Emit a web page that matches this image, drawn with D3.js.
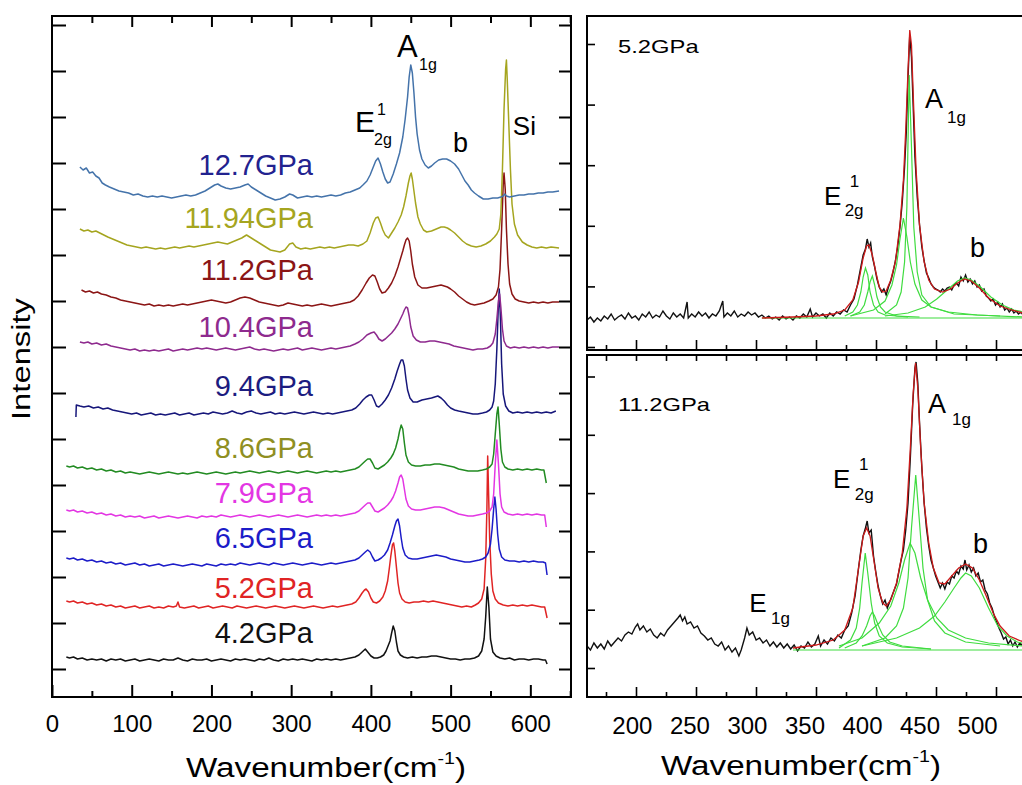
<!DOCTYPE html>
<html>
<head>
<meta charset="utf-8">
<script src="https://d3js.org/d3.v7.min.js"></script>
<style>
  body { margin: 0; background: #fff; }
  svg { display: block; font-family: "Liberation Sans", Arial, sans-serif; }
</style>
</head>
<body>
<div id="chart"></div>
<script>
// ---------- data: stacked Raman spectra (wavenumber, intensity a.u.) ----------
const s42 = [[18,12],[22,11],[27,12],[32,10],[38,11],[44,9],[50,10],[56,9],[62,10],[68,8],[74,10],[80,9],[86,10],[92,8],[98,9],[104,10],[110,8],[116,9],[122,10],[128,9],[134,8],[140,10],[146,9],[152,9],[158,11],[164,9],[170,8],[176,10],[182,9],[188,9],[194,10],[200,8],[206,9],[212,10],[218,9],[224,8],[230,10],[236,9],[242,10],[248,9],[254,8],[260,10],[266,9],[272,11],[278,9],[284,8],[290,10],[296,9],[302,10],[308,9],[314,10],[320,9],[326,8],[332,10],[338,9],[344,10],[350,9],[356,10],[362,9],[368,10],[374,11],[380,12],[385,14],[389,17],[393,20],[396,17],[400,13],[404,11],[408,11],[412,12],[416,14],[419,18],[422,24],[424,28],[426,36],[428,43],[430,38],[432,27],[434,18],[437,14],[441,12],[446,11],[452,12],[458,11],[464,12],[470,12],[476,13],[482,13],[488,12],[494,11],[500,10],[506,10],[512,9],[518,10],[524,10],[530,11],[535,13],[539,18],[542,30],[544,52],[546,82],[548,62],[550,30],[553,17],[557,13],[562,11],[568,10],[574,11],[580,9],[586,10],[592,10],[598,9],[604,10],[610,10],[616,9],[619,9],[621,5]];
const s52 = [[18,68],[22,67],[27,68],[32,66],[38,67],[44,65],[50,66],[56,64],[62,65],[68,63],[74,64],[80,62],[86,63],[92,61],[98,62],[104,63],[110,61],[116,62],[122,63],[128,61],[134,62],[140,61],[146,63],[152,62],[156,63],[158,67],[160,62],[166,61],[172,62],[178,63],[184,61],[190,62],[196,63],[202,61],[208,62],[214,63],[220,62],[226,61],[232,63],[238,62],[244,61],[250,62],[256,63],[262,62],[268,61],[274,62],[280,63],[286,62],[292,61],[298,62],[304,63],[310,62],[316,61],[322,62],[328,63],[334,62],[340,61],[346,62],[352,63],[358,62],[364,63],[370,64],[376,65],[381,67],[385,71],[389,76],[392,79],[394,80],[397,77],[400,71],[403,67],[407,66],[411,68],[415,72],[418,78],[421,88],[423,100],[425,113],[427,124],[428.5,126],[430,118],[432,102],[434,86],[436,76],[439,70],[443,67],[448,66],[454,67],[460,67],[466,68],[472,67],[478,68],[484,67],[490,66],[496,65],[502,64],[508,63],[514,62],[520,63],[526,62],[531,64],[535,66],[539,70],[542,80],[544,110],[545.5,160],[546.5,213],[547.5,180],[549,130],[551,95],[553,78],[556,70],[560,66],[566,64],[572,63],[578,64],[584,63],[590,64],[596,63],[602,64],[608,63],[614,62],[618,62],[621,51]];
const s65 = [[18,111],[22,110],[27,111],[32,109],[38,110],[44,108],[50,109],[56,107],[62,108],[68,106],[74,107],[80,105],[86,106],[92,104],[98,105],[104,106],[110,104],[116,105],[122,103],[128,104],[134,105],[140,103],[146,104],[152,105],[158,104],[164,103],[170,104],[176,105],[182,104],[188,103],[194,105],[200,104],[206,103],[212,105],[218,104],[224,105],[230,104],[236,106],[242,105],[248,104],[254,105],[260,106],[266,105],[272,104],[278,106],[284,105],[290,104],[296,105],[302,106],[308,105],[314,104],[320,105],[326,106],[332,105],[338,104],[344,105],[350,106],[356,105],[362,106],[368,107],[374,108],[380,109],[385,111],[389,114],[393,117],[396,119],[399,117],[402,112],[405,108],[409,109],[413,111],[417,114],[421,119],[424,126],[427,134],[430,143],[432,148],[434,150],[436,143],[438,131],[440,121],[443,114],[447,111],[452,110],[458,110],[464,111],[470,112],[476,113],[482,114],[488,113],[494,112],[500,110],[506,109],[512,108],[518,107],[524,107],[530,108],[536,109],[540,110],[544,112],[547,116],[550,125],[552,140],[554,160],[555.5,172],[557,160],[559,135],[561,120],[564,112],[568,109],[574,108],[580,108],[586,107],[592,108],[598,107],[604,108],[610,107],[616,107],[619,106],[621,94]];
const s79 = [[18,159],[22,158],[27,159],[32,157],[38,158],[44,156],[50,157],[56,155],[62,156],[68,154],[74,155],[80,153],[86,154],[92,152],[98,153],[104,152],[110,153],[116,151],[122,152],[128,153],[134,151],[140,152],[146,153],[152,152],[158,151],[164,152],[170,153],[176,152],[182,151],[188,153],[194,152],[200,153],[206,152],[212,154],[218,153],[224,152],[230,153],[236,154],[242,153],[248,152],[254,153],[260,154],[266,153],[272,152],[278,153],[284,154],[290,153],[296,152],[302,153],[308,154],[314,153],[320,152],[326,153],[332,154],[338,153],[344,154],[350,153],[356,154],[362,153],[368,154],[374,155],[380,156],[385,158],[389,161],[393,164],[396,166],[399,166],[402,162],[405,158],[409,157],[413,159],[417,161],[421,164],[425,168],[428,172],[431,178],[434,186],[436,192],[438,194],[440,190],[442,180],[444,170],[447,163],[451,160],[456,159],[462,159],[468,160],[474,161],[480,162],[486,162],[492,161],[498,159],[504,157],[510,155],[516,154],[522,153],[528,153],[534,154],[540,155],[545,156],[549,158],[552,162],[554,175],[556,205],[558,229],[560,205],[562,175],[564,162],[567,157],[572,155],[578,154],[584,155],[590,154],[596,155],[602,154],[608,155],[614,154],[618,154],[620,142]];
const s86 = [[18,203],[22,202],[27,203],[32,201],[38,202],[44,200],[50,201],[56,199],[62,200],[68,198],[74,199],[80,197],[86,198],[92,196],[98,197],[104,196],[110,195],[116,196],[122,197],[128,196],[134,195],[140,196],[146,197],[152,196],[158,195],[164,196],[170,195],[176,196],[182,197],[188,196],[194,195],[200,196],[206,197],[212,196],[218,195],[224,196],[230,197],[236,196],[242,197],[248,198],[254,197],[260,196],[266,197],[272,198],[278,197],[284,196],[290,197],[296,198],[302,197],[308,196],[314,197],[320,198],[326,197],[332,196],[338,197],[344,198],[350,197],[356,198],[362,197],[368,198],[374,199],[380,200],[385,202],[389,205],[393,208],[396,210],[399,210],[402,206],[405,201],[409,200],[413,202],[417,204],[421,207],[425,211],[428,215],[431,221],[434,230],[436,238],[438,244],[440,240],[442,226],[444,214],[447,207],[451,204],[456,203],[462,203],[468,204],[474,204],[480,205],[486,205],[492,204],[498,203],[504,202],[510,200],[516,199],[522,198],[528,198],[534,198],[540,199],[545,200],[549,202],[552,205],[554,215],[556,235],[558,255],[559.5,262],[561,245],[563,220],[565,207],[568,202],[572,200],[578,199],[584,200],[590,199],[596,200],[602,199],[608,200],[614,199],[617,199],[620,186]];
const s94 = [[30,252],[30.5,264],[35,263],[40,262],[46,263],[52,261],[58,262],[64,260],[70,261],[76,259],[82,258],[88,257],[94,256],[100,255],[106,256],[112,254],[118,255],[124,256],[130,254],[136,255],[142,254],[148,255],[154,256],[160,254],[166,255],[172,256],[178,254],[184,255],[190,256],[196,255],[202,257],[208,256],[214,255],[220,256],[226,258],[232,256],[238,255],[244,257],[250,258],[256,256],[262,255],[268,256],[274,257],[280,255],[286,256],[292,255],[298,256],[304,257],[310,256],[316,255],[322,256],[328,257],[334,256],[340,255],[346,256],[352,255],[358,256],[364,257],[370,258],[376,259],[381,261],[386,265],[390,269],[394,272],[398,274],[401,274],[404,269],[407,263],[410,262],[414,265],[418,269],[422,274],[426,281],[430,290],[433,298],[436,305],[438,309],[440,309],[442,303],[444,290],[446,279],[449,271],[453,267],[458,267],[464,269],[470,270],[476,271],[480,272],[484,273],[488,271],[492,268],[496,264],[500,261],[505,259],[510,258],[516,257],[522,256],[528,255],[534,255],[540,256],[545,257],[549,259],[552,262],[554,268],[556,285],[558,320],[559.5,355],[561,380],[562.5,350],[564,305],[566,275],[569,263],[573,258],[578,256],[584,257],[590,256],[596,257],[602,256],[608,257],[614,256],[620,257],[626,256],[632,258]];
const s104 = [[35,327],[40,326],[45,327],[50,325],[56,326],[62,324],[68,325],[74,323],[80,322],[86,321],[92,320],[98,319],[104,320],[110,318],[116,319],[122,318],[128,319],[134,318],[140,319],[146,320],[152,318],[158,319],[164,320],[170,319],[176,320],[182,321],[188,320],[194,321],[200,320],[206,319],[212,320],[218,321],[224,320],[230,319],[236,320],[242,321],[248,322],[254,320],[260,319],[266,320],[272,319],[278,318],[284,319],[290,320],[296,319],[302,320],[308,321],[314,319],[320,320],[326,321],[332,320],[338,319],[344,320],[350,321],[356,320],[362,321],[368,322],[374,323],[380,325],[385,327],[390,330],[395,334],[400,336],[404,337],[407,334],[410,330],[414,328],[418,330],[422,333],[426,336],[430,340],[434,345],[437,350],[440,355],[442,359],[444,362],[446,361],[448,353],[450,342],[453,333],[457,329],[462,327],[468,327],[474,328],[480,328],[486,327],[492,326],[498,325],[504,323],[510,322],[516,321],[522,320],[528,319],[534,320],[540,320],[546,321],[550,323],[553,326],[556,335],[558,350],[560,368],[561.5,375],[563,362],[565,340],[567,328],[570,323],[575,321],[580,322],[586,321],[592,322],[598,321],[604,322],[610,321],[616,322],[622,321],[628,322],[636,322]];
const s112 = [[37,379],[42,377],[47,378],[52,376],[57,377],[62,375],[68,374],[74,372],[80,371],[86,369],[92,368],[98,367],[104,366],[110,365],[116,364],[122,365],[128,363],[134,364],[140,363],[146,364],[152,363],[158,364],[164,365],[170,364],[176,365],[182,366],[188,367],[194,368],[200,369],[206,368],[212,367],[218,366],[224,367],[230,369],[236,371],[242,372],[248,371],[254,369],[260,367],[266,366],[272,365],[278,364],[284,363],[290,364],[296,366],[302,365],[308,364],[314,363],[320,364],[326,363],[332,364],[338,365],[344,364],[350,363],[356,364],[362,365],[368,366],[374,367],[379,369],[384,373],[389,379],[394,386],[398,391],[402,394],[405,393],[408,387],[411,380],[414,376],[418,377],[422,381],[426,386],[430,393],[434,402],[437,410],[440,418],[442,424],[444,429],[446,431],[448,428],[450,418],[452,405],[455,392],[459,384],[464,381],[470,381],[476,382],[482,383],[488,384],[492,383],[496,382],[500,380],[505,377],[510,373],[515,370],[520,367],[525,365],[530,364],[536,365],[542,366],[548,368],[553,370],[557,374],[560,382],[562,400],[564,440],[566,485],[567,496],[568.5,480],[570,440],[572,405],[574,385],[577,375],[581,370],[586,368],[592,367],[598,366],[604,367],[610,366],[616,367],[622,366],[628,367],[636,367]];
const s1194 = [[35,440],[40,438],[45,439],[50,437],[55,438],[60,436],[65,434],[70,432],[76,430],[82,428],[88,426],[94,424],[100,423],[106,422],[112,421],[118,422],[124,421],[130,420],[136,421],[142,420],[148,421],[154,422],[160,421],[166,422],[172,423],[178,422],[184,423],[190,424],[196,425],[202,426],[208,427],[214,426],[220,425],[226,427],[232,429],[238,431],[244,434],[250,431],[256,428],[262,425],[268,422],[274,419],[280,418],[286,417],[292,419],[298,425],[302,426],[306,422],[312,420],[318,421],[324,420],[330,421],[336,422],[342,421],[348,422],[354,421],[360,422],[366,423],[372,424],[378,424],[384,423],[390,425],[395,428],[399,436],[403,446],[406,451],[409,452],[412,446],[415,439],[418,434],[422,431],[426,436],[430,441],[434,447],[438,454],[441,462],[444,473],[447,486],[449,493],[450.5,496],[452,490],[454,478],[456,466],[459,452],[462,445],[466,439],[470,437],[476,438],[482,440],[488,442],[492,442],[496,441],[500,439],[505,436],[510,432],[515,428],[520,425],[526,423],[532,422],[538,423],[544,425],[550,428],[555,432],[558,435],[561,440],[563,455],[565,500],[567,560],[569,600],[570,609],[571,590],[573,545],[575,500],[577,465],[580,445],[584,434],[590,427],[596,424],[602,422],[608,421],[614,422],[620,421],[626,422],[636,421]];
const s127 = [[35,502],[39,499],[43,501],[47,496],[51,497],[55,493],[59,491],[63,486],[67,484],[72,482],[78,480],[84,478],[90,477],[96,476],[102,474],[108,475],[114,473],[120,472],[126,473],[132,472],[138,473],[144,472],[150,471],[156,472],[162,473],[168,474],[174,473],[180,474],[186,476],[192,478],[198,481],[204,484],[208,485],[212,483],[218,481],[224,480],[230,481],[236,482],[242,484],[246,485],[250,482],[256,479],[262,476],[268,473],[274,471],[280,469],[286,470],[292,472],[298,475],[302,474],[308,471],[314,472],[320,473],[326,472],[332,473],[338,472],[344,473],[350,474],[356,473],[362,474],[368,476],[374,477],[380,479],[386,481],[390,484],[395,488],[399,494],[403,502],[406,508],[409,511],[412,505],[415,497],[418,490],[421,486],[424,487],[428,495],[432,505],[436,516],[440,532],[443,550],[446,572],[448,592],[450,604],[452,596],[454,576],[456,552],[458,535],[461,519],[464,510],[468,504],[472,501],[476,503],[480,506],[485,509],[490,510],[495,510],[500,508],[505,505],[510,500],[514,494],[518,488],[522,484],[526,479],[530,476],[535,473],[541,470],[547,470],[553,471],[559,471],[563,472],[566,473],[568,475],[570,473],[574,472],[580,473],[586,474],[592,474],[598,475],[604,475],[610,476],[616,476],[622,477],[628,477],[636,478]];

const spectraL = [s42, s52, s65, s79, s86, s94, s104, s112, s1194, s127];
const pressures = ["4.2GPa", "5.2GPa", "6.5GPa", "7.9GPa", "8.6GPa", "9.4GPa", "10.4GPa", "11.2GPa", "11.94GPa", "12.7GPa"];
const labelLevel = [26, 71, 121, 166, 211, 273, 332, 389, 441, 494];

// 5.2 GPa fit panel
const raw52 = [[161,27],[164,30],[167,25],[170,29],[173,26],[176,31],[179,28],[182,33],[185,27],[188,30],[191,32],[194,28],[197,34],[200,29],[203,31],[206,27],[209,33],[212,30],[215,35],[218,29],[221,32],[224,30],[227,36],[230,31],[233,28],[236,34],[239,30],[242,33],[245,29],[248,45],[249,29],[252,33],[255,30],[258,35],[261,31],[264,34],[267,29],[270,33],[273,31],[276,36],[279,46],[280,30],[283,34],[286,31],[289,36],[292,30],[295,33],[298,31],[301,35],[304,32],[307,34],[310,30],[313,32],[316,29],[319,31],[322,28],[325,30],[328,27],[331,31],[334,28],[337,30],[340,27],[343,31],[346,29],[349,33],[352,30],[355,38],[357,30],[360,34],[363,31],[366,33],[369,29],[372,34],[375,31],[378,35],[381,33],[384,37],[387,35],[390,42],[393,48],[396,62],[399,80],[401,92],[403,98],[404.5,108],[406,100],[407.5,104],[409,90],[411,80],[413,68],[415,60],[417,55],[419,58],[421,52],[423,60],[425,66],[427,75],[429,86],[431,100],[433,120],[435,145],[437,180],[438.5,215],[440,270],[441.5,312],[443,290],[444.5,240],[446,190],[448,150],[450,122],[452,100],[454,86],[456,74],[458,69],[460,63],[462,60],[464,58],[466,57],[468,55],[470,58],[472,56],[474,59],[476,60],[478,57],[480,62],[482,64],[484,61],[486,70],[488,66],[490,72],[492,65],[494,68],[496,63],[498,66],[500,60],[502,62],[504,56],[506,58],[508,51],[510,49],[512,46],[514,48],[516,42],[518,45],[520,40],[522,43],[524,37],[526,39],[528,35],[530,38],[532,34],[534,36],[536,33],[538,35],[540,32],[543,34],[546,33]];
const fit52 = [[313,29],[340,30],[360,31],[375,33],[385,37],[392,47],[397,65],[401,89],[404,101],[406,102],[409,92],[412,75],[415,60],[418,55],[421,56],[425,67],[429,85],[433,122],[436,167],[438,217],[440,277],[441.5,317],[443,302],[445,237],[447,177],[450,122],[454,85],[458,67],[463,58],[470,55],[477,58],[483,64],[489,68],[495,66],[502,59],[510,49],[520,41],[530,37],[540,34],[546,33]];
const base52 = [[313,29],[546,29]];
const e2ga52 = [[385,31],[392,35],[396,42],[399,55],[401,70],[403,79],[405,72],[407,55],[410,42],[414,35],[420,32],[440,30]];
const e2gb52 = [[390,31],[398,35],[402,42],[405,55],[407,65],[409,71],[411,62],[413,50],[416,40],[420,35],[430,31],[450,30]];
const a1ga52 = [[390,31],[410,37],[420,46],[426,62],[430,82],[433,108],[436,129],[439,110],[442,85],[446,63],[452,47],[460,40],[475,35],[500,32],[540,30]];
const a1gb52 = [[420,33],[430,42],[434,55],[437,85],[439,140],[441,272],[443,200],[445,120],[448,75],[452,52],[460,40],[480,33],[520,31]];
const b52 = [[420,31],[440,34],[455,40],[465,48],[475,58],[483,66],[489,69],[495,67],[503,60],[512,50],[522,42],[532,37],[546,34]];

// 11.2 GPa fit panel
const raw112 = [[161,22],[164,18],[167,25],[170,20],[173,24],[176,19],[179,27],[182,22],[185,26],[188,30],[191,27],[194,33],[197,36],[200,34],[203,41],[205,44],[207,38],[210,42],[213,36],[216,39],[219,33],[222,30],[225,35],[228,32],[231,38],[234,42],[237,46],[240,50],[242,53],[244,47],[246,51],[248,44],[251,46],[254,40],[257,42],[260,35],[263,32],[266,28],[269,30],[272,24],[275,22],[278,26],[281,18],[284,22],[287,16],[290,20],[293,12],[295,18],[298,30],[300,40],[302,33],[305,36],[308,28],[311,30],[314,25],[317,28],[320,22],[323,26],[326,21],[329,25],[332,20],[335,24],[338,19],[341,23],[344,17],[347,22],[350,20],[353,26],[356,21],[359,24],[362,32],[364,22],[367,28],[370,24],[373,30],[376,27],[379,33],[382,30],[385,38],[388,42],[391,55],[394,72],[397,100],[399,118],[401,132],[403,140],[404.5,147],[406,135],[408,138],[410,112],[412,96],[414,82],[416,72],[418,64],[420,68],[422,60],[424,66],[426,72],[428,78],[430,84],[432,96],[434,108],[436,118],[438,138],[440,165],[442,210],[444,262],[446,300],[447,306],[448.5,285],[450,245],[452,200],[454,165],[456,140],[458,122],[460,108],[462,100],[464,92],[466,86],[468,80],[470,85],[472,79],[474,86],[476,84],[478,92],[480,90],[482,97],[484,94],[486,102],[488,99],[489.5,108],[491,98],[493,103],[495,96],[497,100],[499,92],[501,95],[503,86],[505,88],[507,78],[509,74],[511,65],[513,60],[515,52],[517,46],[519,40],[521,35],[523,29],[525,31],[527,24],[529,28],[531,22],[533,26],[535,21],[537,25],[540,22],[543,24],[546,23]];
const fit112 = [[340,20],[360,23],[375,28],[385,38],[392,60],[397,100],[401,132],[404,140],[407,132],[410,110],[414,80],[418,65],[421,62],[425,68],[430,85],[435,115],[439,160],[442,220],[444.5,275],[446.5,305],[448.5,280],[451,220],[454,165],[458,125],[462,100],[467,85],[472,84],[478,92],[484,100],[490,104],[496,100],[502,88],[508,72],[514,55],[520,42],[528,32],[538,27],[546,25]];
const base112 = [[340,18],[546,18]];
const e2ga112 = [[380,20],[390,28],[395,40],[398,60],[400,85],[402.8,115],[405,95],[408,65],[411,45],[415,32],[422,25],[435,21],[460,19]];
const e2gb112 = [[385,20],[395,25],[400,32],[404,42],[407,52],[409,56],[411,52],[414,43],[418,33],[424,26],[435,22],[460,19]];
const a1ga112 = [[380,22],[400,30],[415,45],[425,62],[432,85],[437,108],[441.8,125],[446,115],[451,90],[457,68],[465,50],[475,38],[490,30],[510,25],[540,22]];
const a1gb112 = [[400,22],[420,30],[430,42],[436,60],[440,90],[443,140],[446.7,193],[450,145],[453,100],[457,68],[463,47],[472,35],[490,26],[520,22]];
const b112 = [[400,22],[430,30],[450,40],[463,52],[472,66],[480,80],[486,90],[490,95],[495,92],[502,80],[510,60],[518,42],[526,32],[535,26],[546,23]];

// ---------- styles ----------
const lineColors = ["#111111", "#e02424", "#1c1cc8", "#e336e3", "#228b22", "#16167a", "#8e2a8e", "#8b1515", "#a5a51f", "#4473aa"];
const textColors = ["#111111", "#e02424", "#1c1cc8", "#e336e3", "#8f8f22", "#1c1c80", "#8e2a8e", "#8b1515", "#a5a51f", "#22228f"];
const fitRed = "#cc1a1a", fitGreen = "#3fdc3f";

const W = 1022, H = 785;
const svg = d3.select("#chart").append("svg").attr("width", W).attr("height", H);
svg.append("rect").attr("width", W).attr("height", H).attr("fill", "#fff");

function styleAxis(g, size) {
  g.attr("font-family", null).attr("font-size", size || 24);
  g.select(".domain").remove();
  g.selectAll(".tick line").attr("stroke", "#000").attr("stroke-width", 2);
  g.selectAll(".tick text").attr("fill", "#000");
}

function txt(g, x, y, s, size, opts) {
  opts = opts || {};
  const sx = opts.sx || 1;
  return g.append("text")
    .attr("transform", `translate(${x},${y}) scale(${sx},1)`)
    .attr("font-size", size)
    .attr("text-anchor", opts.anchor || "start")
    .attr("fill", opts.color || "#000")
    .text(s);
}

function xTitle(cx, by) {
  const t = svg.append("text")
    .attr("transform", `translate(${cx},${by}) scale(1.23,1)`)
    .attr("text-anchor", "middle").attr("font-size", 27).attr("fill", "#000");
  t.append("tspan").text("Wavenumber(cm");
  t.append("tspan").attr("font-size", 16).attr("dy", -13).text("-1");
  t.append("tspan").attr("dy", 13).text(")");
}

// ================= left panel =================
const xL = d3.scaleLinear().domain([0, 651]).range([52, 571]);
const yL = d3.scaleLinear().domain([-28, 653]).range([697, 16]);
const gL = svg.append("g");

gL.append("g").attr("transform", "translate(0,697)")
  .call(d3.axisBottom(xL).tickValues(d3.range(0, 601, 100)).tickSize(-12).tickPadding(18).tickFormat(d3.format("d")))
  .call(g => styleAxis(g, 24));
gL.append("g").attr("transform", "translate(0,697)")
  .call(d3.axisBottom(xL).tickValues(d3.range(50, 651, 100)).tickSize(-6).tickFormat(""))
  .call(g => styleAxis(g));
gL.append("g").attr("transform", "translate(0,16)")
  .call(d3.axisTop(xL).tickValues(d3.range(100, 601, 100)).tickSize(-11).tickFormat(""))
  .call(g => styleAxis(g));
gL.append("g").attr("transform", "translate(0,16)")
  .call(d3.axisTop(xL).tickValues(d3.range(50, 651, 100)).tickSize(-7).tickFormat(""))
  .call(g => styleAxis(g));
gL.append("g").attr("transform", "translate(52,0)")
  .call(d3.axisLeft(yL).tickValues(d3.range(0, 653, 46)).tickSize(-14).tickFormat(""))
  .call(g => styleAxis(g));
gL.append("g").attr("transform", "translate(571,0)")
  .call(d3.axisRight(yL).tickValues(d3.range(0, 653, 46)).tickSize(-12).tickFormat(""))
  .call(g => styleAxis(g));

const lineL = d3.line().x(d => xL(d[0])).y(d => yL(d[1]));
gL.selectAll("path.spec").data(spectraL).enter().append("path")
  .attr("class", "spec")
  .attr("d", lineL)
  .attr("fill", "none")
  .attr("stroke", (d, i) => lineColors[i])
  .attr("stroke-width", 1.5)
  .attr("stroke-linejoin", "round");

gL.selectAll("text.plab").data(pressures).enter().append("text")
  .attr("class", "plab")
  .attr("x", xL(327.4))
  .attr("y", (d, i) => yL(labelLevel[i]))
  .attr("text-anchor", "end")
  .attr("font-size", 29)
  .attr("fill", (d, i) => textColors[i])
  .text(d => d);

// peak labels
txt(gL, xL(432.7), yL(612), "A", 31);
txt(gL, xL(460.4), yL(599), "1g", 16);
txt(gL, xL(380), yL(537), "E", 30);
txt(gL, xL(407.7), yL(554), "1", 16);
txt(gL, xL(403.9), yL(524), "2g", 16);
txt(gL, xL(503), yL(517), "b", 27);
txt(gL, xL(578), yL(534), "Si", 26);

gL.append("rect").attr("x", 52).attr("y", 16).attr("width", 571 - 52).attr("height", 697 - 16)
  .attr("fill", "none").attr("stroke", "#000").attr("stroke-width", 2);

// Intensity title
svg.append("text")
  .attr("transform", "translate(30,359) rotate(-90) scale(1.26,1)")
  .attr("text-anchor", "middle").attr("font-size", 26).attr("fill", "#000")
  .text("Intensity");
xTitle(326, 777);

// ================= right panels =================
const xR = d3.scaleLinear().domain([161, 546]).range([587, 1030]);
const xT = d3.scaleLinear().domain([200, 500]).range([636, 996]); // tick marks of the right frames
const yT = d3.scaleLinear().domain([-3, 331]).range([350, 16]);
const yB = d3.scaleLinear().domain([-29, 313]).range([697, 355]);

function fitPanel(yS, top, bottom, raw, fit, comps, tickStep, withTopTicks) {
  const g = svg.append("g");
  const clipId = "clip" + top;
  g.append("clipPath").attr("id", clipId).append("rect")
    .attr("x", 587).attr("y", top).attr("width", 1030 - 587).attr("height", bottom - top);
  const line = d3.line().x(d => xR(d[0])).y(d => yS(d[1]));
  const plot = g.append("g").attr("clip-path", `url(#${clipId})`);
  plot.append("path").attr("d", line(raw)).attr("fill", "none").attr("stroke", "#111").attr("stroke-width", 1.4);
  plot.selectAll("path.comp").data(comps).enter().append("path").attr("class", "comp")
    .attr("d", line).attr("fill", "none").attr("stroke", fitGreen).attr("stroke-width", 1.2);
  plot.append("path").attr("d", line(fit)).attr("fill", "none").attr("stroke", fitRed).attr("stroke-width", 1.3);

  g.append("g").attr("transform", `translate(0,${bottom})`)
    .call(d3.axisBottom(xT).tickValues(d3.range(200, 501, 50)).tickSize(-10).tickFormat(""))
    .call(a => styleAxis(a)).call(a => a.selectAll("line").attr("stroke-width", 1.6));
  g.append("g").attr("transform", `translate(0,${bottom})`)
    .call(d3.axisBottom(xT).tickValues(d3.range(175, 526, 50)).tickSize(-5).tickFormat(""))
    .call(a => styleAxis(a)).call(a => a.selectAll("line").attr("stroke-width", 1.6));
  if (withTopTicks) {
    g.append("g").attr("transform", `translate(0,${top})`)
      .call(d3.axisTop(xT).tickValues(d3.range(175, 526, 25)).tickSize(-6).tickFormat(""))
      .call(a => styleAxis(a)).call(a => a.selectAll("line").attr("stroke-width", 1.6));
  }
  g.append("g").attr("transform", "translate(587,0)")
    .call(d3.axisLeft(yS).tickValues(d3.range(0, yS.domain()[1], tickStep)).tickSize(-8).tickFormat(""))
    .call(a => styleAxis(a)).call(a => a.selectAll("line").attr("stroke-width", 1.6));
  g.append("rect").attr("x", 587).attr("y", top).attr("width", 1030 - 587).attr("height", bottom - top)
    .attr("fill", "none").attr("stroke", "#000").attr("stroke-width", 2);
  return g;
}

const gT = fitPanel(yT, 16, 350, raw52, fit52, [base52, e2ga52, e2gb52, a1ga52, a1gb52, b52], 60.6, false);
const gB = fitPanel(yB, 355, 697, raw112, fit112, [base112, e2ga112, e2gb112, a1ga112, a1gb112, b112], 58.3, true);

// x labels of the lower right panel
gB.append("g").attr("transform", "translate(0,697)")
  .call(d3.axisBottom(xR).tickValues(d3.range(200, 501, 50)).tickSize(0).tickPadding(20).tickFormat(d3.format("d")))
  .call(a => styleAxis(a, 24));

txt(gT, xR(188), yT(294), "5.2GPa", 19, {sx: 1.25});
txt(gT, xR(366.9), yT(142), "E", 26);
txt(gT, xR(389.3), yT(160), "1", 17);
txt(gT, xR(384.9), yT(131), "2g", 17);
txt(gT, xR(454.8), yT(239), "A", 27);
txt(gT, xR(473.9), yT(224), "1g", 17);
txt(gT, xR(493.9), yT(90), "b", 27);

txt(gB, xR(188), yB(257), "11.2GPa", 19, {sx: 1.25});
txt(gB, xR(374.7), yB(180), "E", 26);
txt(gB, xR(397.3), yB(198), "1", 17);
txt(gB, xR(393.8), yB(168), "2g", 17);
txt(gB, xR(457.4), yB(255), "A", 27);
txt(gB, xR(478.2), yB(243), "1g", 17);
txt(gB, xR(496.5), yB(115), "b", 27);
txt(gB, xR(301.9), yB(56), "E", 26);
txt(gB, xR(321), yB(44), "1g", 17);

xTitle(801, 775);
</script>
</body>
</html>
